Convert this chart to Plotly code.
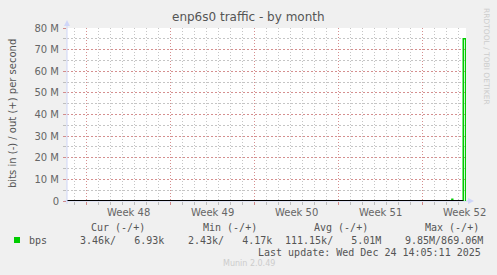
import plotly.graph_objects as go

# ---- data ----
out_times = ["2025-11-22 08:36", "2025-12-24 10:20", "2025-12-24 10:30", "2025-12-24 12:00",
             "2025-12-24 12:10", "2025-12-25 09:10", "2025-12-25 09:12", "2025-12-25 13:58",
             "2025-12-25 14:00"]
out_values = [5e3, 5e3, 0.8e6, 0.8e6, 5e3, 5e3, 75e6, 75e6, 0]
zero_times = ["2025-11-22 08:36", "2025-12-25 09:10"]
zero_values = [0, 0]

week_starts = ["2025-11-24", "2025-12-01", "2025-12-08", "2025-12-15", "2025-12-22"]
week_mids = ["2025-11-27 12:00", "2025-12-04 12:00", "2025-12-11 12:00", "2025-12-18 12:00", "2025-12-25 12:00"]
week_labels = ["Week 48", "Week 49", "Week 50", "Week 51", "Week 52"]

y_ticks = [0, 10e6, 20e6, 30e6, 40e6, 50e6, 60e6, 70e6, 80e6]
y_labels = ["0", "10 M", "20 M", "30 M", "40 M", "50 M", "60 M", "70 M", "80 M"]

legend_headers = ["Cur (-/+)", "Min (-/+)", "Avg (-/+)", "Max (-/+)"]
legend_values = ["3.46k/   6.93k", "2.43k/   4.17k", "111.15k/   5.01M", "9.85M/869.06M"]
series_name = "bps"
last_update = "Last update: Wed Dec 24 14:05:11 2025"

x_range = ["2025-11-22 08:36", "2025-12-25 14:36"]

# ---- layout geometry ----
W, H = 497, 275
L, R, T, B = 67, 466, 28, 201

def px(x):
    return (x - L) / (R - L)

def py(y):
    return (B - y) / (B - T)

GREEN = "#00CC00"
AXISC = "#CFD6F8"
GRID = "rgba(150,150,150,0.55)"
MGRID = "rgba(230,90,90,0.5)"
DASH = "1px,2px"
YDASH = "2px,2px"
FONT = "DejaVu Sans"
MONO = "DejaVu Sans Mono"

fig = go.Figure()
fig.add_trace(go.Scatter(x=out_times, y=out_values, mode="lines",
                         line=dict(color=GREEN, width=1.6), showlegend=False, hoverinfo="skip"))
fig.add_trace(go.Scatter(x=zero_times, y=zero_values, mode="lines",
                         line=dict(color="#000000", width=2), showlegend=False, hoverinfo="skip"))

fig.update_layout(
    width=W, height=H,
    margin=dict(l=L, r=W - R, t=T, b=H - B),
    paper_bgcolor="#F0F0F0", plot_bgcolor="#FFFFFF",
    showlegend=False,
    font=dict(family=FONT, size=10, color="#666666"),
    xaxis=dict(
        type="date", range=x_range,
        tickvals=week_starts, ticktext=[""] * len(week_starts),
        showgrid=True, gridcolor=MGRID, griddash=DASH, gridwidth=1,
        ticks="outside", ticklen=3, tickcolor=MGRID,
        showline=False, zeroline=False,
        minor=dict(dtick=86400000, tick0="2025-11-24", showgrid=True, gridcolor=GRID,
                   griddash=DASH, gridwidth=1, ticks="outside", ticklen=3, tickcolor=GRID),
    ),
    yaxis=dict(
        range=[0, 80e6], tickmode="array", tickvals=y_ticks, ticktext=y_labels,
        showgrid=True, gridcolor=MGRID, gridwidth=1, griddash=YDASH,
        ticks="outside", ticklen=3, tickcolor=MGRID, ticklabelstandoff=2,
        showline=False, zeroline=False,
        tickfont=dict(family=FONT, size=10, color="#666666"),
        minor=dict(tickmode="linear", tick0=0, dtick=5e6, showgrid=True, gridcolor=GRID, gridwidth=1,
                   griddash=YDASH, ticks="outside", ticklen=3, tickcolor=GRID),
    ),
)

shapes = []
# axes lines
shapes.append(dict(type="line", xref="paper", yref="paper", x0=px(L), x1=px(L), y0=py(B + 3), y1=py(24),
                   line=dict(color=AXISC, width=1)))
shapes.append(dict(type="line", xref="paper", yref="paper", x0=px(L - 3), x1=px(470), y0=py(B), y1=py(B),
                   line=dict(color=AXISC, width=1), layer="below"))
# arrows
shapes.append(dict(type="path", xref="paper", yref="paper",
                   path=f"M {px(L-3)} {py(26)} L {px(L+3)} {py(26)} L {px(L)} {py(20)} Z",
                   fillcolor=AXISC, line=dict(width=0)))
shapes.append(dict(type="path", xref="paper", yref="paper",
                   path=f"M {px(468)} {py(B-3)} L {px(468)} {py(B+3)} L {px(474)} {py(B)} Z",
                   fillcolor=AXISC, line=dict(width=0)))
# legend swatch
shapes.append(dict(type="rect", xref="paper", yref="paper", x0=px(14), x1=px(20), y0=py(243), y1=py(237),
                   fillcolor=GREEN, line=dict(width=0)))
fig.update_layout(shapes=shapes)

ann = []
for wx, wl in zip(week_mids, week_labels):
    ann.append(dict(text=wl, x=wx, y=py(212.5), xref="x", yref="paper", xanchor="center",
                    showarrow=False, font=dict(family=FONT, size=10, color="#666666")))
ann.append(dict(text="enp6s0 traffic - by month", x=px(248), y=py(17), xref="paper", yref="paper",
                showarrow=False, font=dict(family=FONT, size=12, color="#555555")))
ann.append(dict(text="bits in (-) / out (+) per second", x=px(12), y=py(114), xref="paper", yref="paper",
                showarrow=False, textangle=-90, font=dict(family=FONT, size=10, color="#555555")))
ann.append(dict(text="RRDTOOL / TOBI OETIKER", x=px(487), y=py(56), xref="paper", yref="paper",
                showarrow=False, textangle=90, font=dict(family=FONT, size=7.5, color="#CCCCCC")))
for hx, txt in zip([89, 201, 312, 423], legend_headers):
    ann.append(dict(text=txt.replace(" ", "&nbsp;"), x=px(hx), y=py(227), xref="paper", yref="paper",
                    xanchor="left", showarrow=False, font=dict(family=MONO, size=10, color="#555555")))
ann.append(dict(text=series_name, x=px(27), y=py(240), xref="paper", yref="paper", xanchor="left",
                showarrow=False, font=dict(family=MONO, size=10, color="#555555")))
for vx, txt in zip([78, 186, 283, 403], legend_values):
    ann.append(dict(text=txt.replace(" ", "&nbsp;"), x=px(vx), y=py(240), xref="paper", yref="paper",
                    xanchor="left", showarrow=False, font=dict(family=MONO, size=10, color="#555555")))
ann.append(dict(text=last_update.replace(" ", "&nbsp;"), x=px(483), y=py(252), xref="paper", yref="paper",
                xanchor="right", showarrow=False, font=dict(family=MONO, size=10, color="#555555")))
ann.append(dict(text="Munin 2.0.49", x=px(249), y=py(263.5), xref="paper", yref="paper",
                showarrow=False, font=dict(family=FONT, size=8, color="#CCCCCC")))
for a in ann:
    a.setdefault("xanchor", "center")
    a["yanchor"] = "middle"
fig.update_layout(annotations=ann)

fig.write_html("out.html")
